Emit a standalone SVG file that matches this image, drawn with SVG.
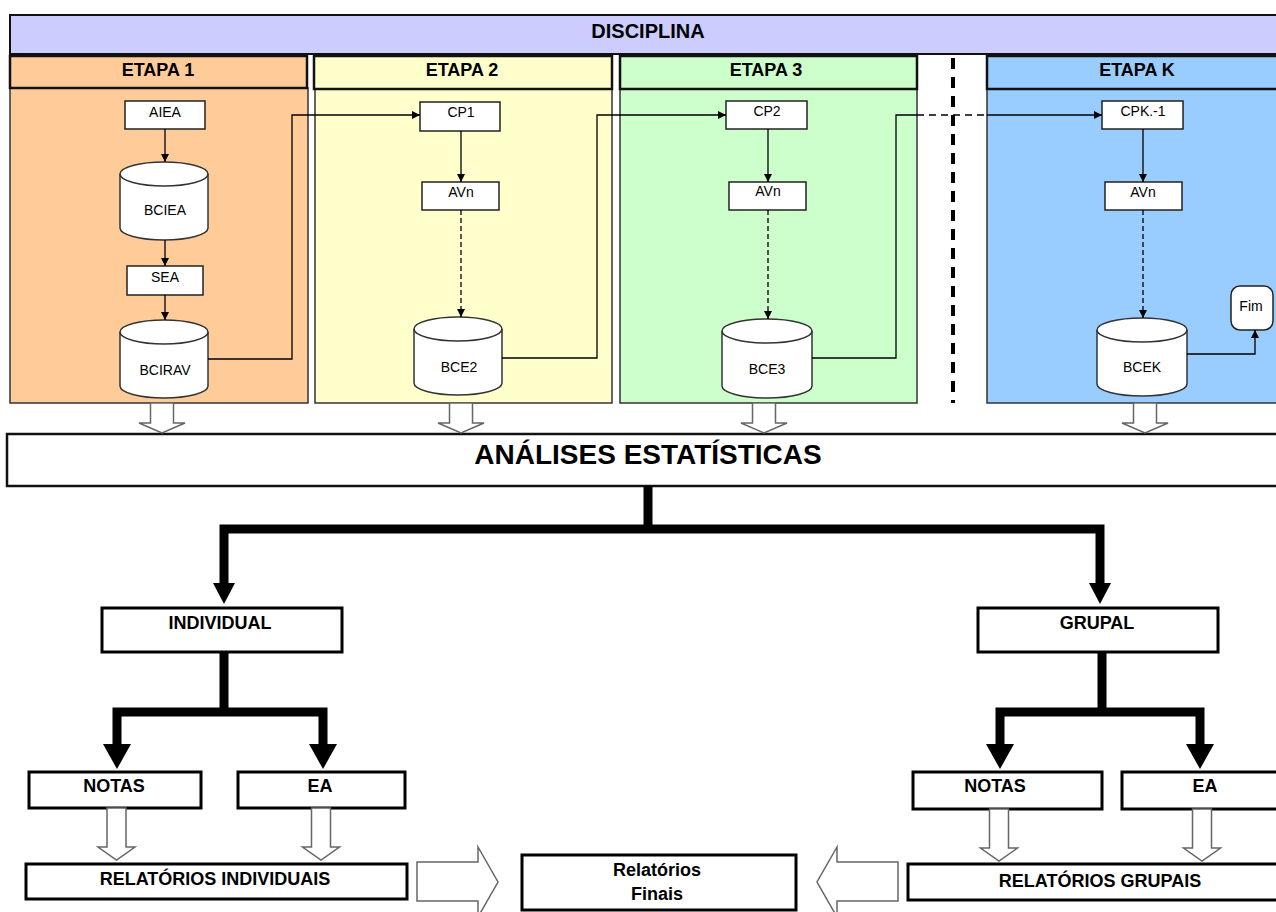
<svg xmlns="http://www.w3.org/2000/svg" width="1276" height="912" viewBox="0 0 1276 912">
<style>
.hdr{stroke:#111;stroke-width:2.5}
.body{stroke:#333;stroke-width:1.5}
.t{font-family:"Liberation Sans",Arial,sans-serif;text-anchor:middle;fill:#000}
.b{font-weight:bold}
.sm{font-size:14px}
.box{fill:#fff;stroke:#222;stroke-width:1.5}
.cyl{fill:#fff;stroke:#333;stroke-width:1.5}
.cylf{fill:none;stroke:#333;stroke-width:1.5}
.ln{fill:none;stroke:#000;stroke-width:1.3}
.dash{stroke-dasharray:5 3}
.big{fill:#fff;stroke:#000;stroke-width:3}
.thick{fill:none;stroke:#000;stroke-width:9;stroke-linejoin:miter;stroke-linecap:butt}
.hollow{fill:#fff;stroke:#666;stroke-width:1.5}
</style>
<defs>
<marker id="ah" markerUnits="userSpaceOnUse" markerWidth="9" markerHeight="9" refX="8" refY="4" orient="auto">
<path d="M0,0 L8,4 L0,8 z" fill="#000"/>
</marker>
<path id="sarrow" d="M-11.5,0 V20 H-23 L0,30 L23,20 H11.5 V0 Z"/>
<path id="barrow" d="M-9.5,0 V39 H-18.5 L0,52 L18.5,39 H9.5 V0 Z"/>
</defs>

<g id="disciplina">
<rect x="10" y="15" width="1270" height="39" fill="#ccccff" stroke="#111" stroke-width="2"/>
<text class="t b" x="648" y="38" font-size="20">DISCIPLINA</text>
</g>

<g id="etapa1">
<rect class="body" x="10" y="88" width="298" height="315" fill="#ffcc99"/>
<rect class="hdr" x="10" y="56" width="297" height="32" fill="#ffcc99"/>
<text class="t b" x="158" y="76" font-size="18">ETAPA 1</text>
</g>
<g id="etapa2">
<rect class="body" x="315" y="88" width="297" height="315" fill="#ffffcc"/>
<rect class="hdr" x="314" y="56" width="298" height="33" fill="#ffffcc"/>
<text class="t b" x="462" y="76" font-size="18">ETAPA 2</text>
</g>
<g id="etapa3">
<rect class="body" x="620" y="88" width="297" height="315" fill="#ccffcc"/>
<rect class="hdr" x="620" y="56" width="297" height="33" fill="#ccffcc"/>
<text class="t b" x="766" y="76" font-size="18">ETAPA 3</text>
</g>
<g id="etapaK">
<rect class="body" x="987" y="88" width="293" height="315" fill="#99ccff"/>
<rect class="hdr" x="987" y="56" width="293" height="33" fill="#99ccff"/>
<text class="t b" x="1137" y="76" font-size="18">ETAPA K</text>
</g>
<g id="separator">
<line x1="953" y1="58" x2="953" y2="403" stroke="#000" stroke-width="4" stroke-dasharray="11 8"/>
</g>

<g id="aiea"><rect class="box" x="125" y="101" width="80" height="28"/><text class="t sm" x="165" y="117">AIEA</text></g>
<g id="bciea"><path class="cyl" d="M120,174 A44,12 0 0,1 208,174 V228 A44,12 0 0,1 120,228 Z"/><path class="cylf" d="M120,174 A44,12 0 0,0 208,174"/><text class="t sm" x="165" y="215">BCIEA</text></g>
<g id="sea"><rect class="box" x="127" y="266" width="76" height="29"/><text class="t sm" x="165" y="282">SEA</text></g>
<g id="bcirav"><path class="cyl" d="M120,332 A44,12 0 0,1 208,332 V386 A44,12 0 0,1 120,386 Z"/><path class="cylf" d="M120,332 A44,12 0 0,0 208,332"/><text class="t sm" x="165" y="375">BCIRAV</text></g>

<g id="cp1"><rect class="box" x="420" y="102" width="80" height="29"/><text class="t sm" x="461" y="117">CP1</text></g>
<g id="avn2"><rect class="box" x="422" y="182" width="77" height="28"/><text class="t sm" x="461" y="197">AVn</text></g>
<g id="bce2"><path class="cyl" d="M414,329 A44,12 0 0,1 502,329 V383 A44,12 0 0,1 414,383 Z"/><path class="cylf" d="M414,329 A44,12 0 0,0 502,329"/><text class="t sm" x="459" y="372">BCE2</text></g>

<g id="cp2"><rect class="box" x="726" y="101" width="81" height="28"/><text class="t sm" x="767" y="116">CP2</text></g>
<g id="avn3"><rect class="box" x="729" y="182" width="77" height="28"/><text class="t sm" x="768" y="196">AVn</text></g>
<g id="bce3"><path class="cyl" d="M722,331 A45,12 0 0,1 812,331 V386 A45,12 0 0,1 722,386 Z"/><path class="cylf" d="M722,331 A45,12 0 0,0 812,331"/><text class="t sm" x="767" y="374">BCE3</text></g>

<g id="cpk"><rect class="box" x="1102" y="101" width="81" height="28"/><text class="t sm" x="1143" y="116">CPK.-1</text></g>
<g id="avnk"><rect class="box" x="1105" y="182" width="77" height="28"/><text class="t sm" x="1143" y="197">AVn</text></g>
<g id="bcek"><path class="cyl" d="M1097,330 A45,12 0 0,1 1187,330 V384 A45,12 0 0,1 1097,384 Z"/><path class="cylf" d="M1097,330 A45,12 0 0,0 1187,330"/><text class="t sm" x="1142" y="372">BCEK</text></g>
<g id="fim"><rect class="box" x="1231" y="286" width="42" height="44" rx="9"/><text class="t sm" x="1251" y="311">Fim</text></g>

<g id="analises">
<rect x="7" y="434" width="1273" height="52" fill="#fff" stroke="#111" stroke-width="2.5"/>
<text class="t b" x="648" y="464" font-size="28">ANÁLISES ESTATÍSTICAS</text>
</g>

<g id="individual"><rect class="big" x="102" y="608" width="240" height="44"/><text class="t b" x="220" y="629" font-size="18">INDIVIDUAL</text></g>
<g id="grupal"><rect class="big" x="978" y="608" width="240" height="44"/><text class="t b" x="1097" y="629" font-size="18">GRUPAL</text></g>
<g id="notas-ind"><rect class="big" x="29" y="772" width="172" height="36"/><text class="t b" x="114" y="792" font-size="18">NOTAS</text></g>
<g id="ea-ind"><rect class="big" x="238" y="772" width="167" height="36"/><text class="t b" x="320" y="792" font-size="18">EA</text></g>
<g id="notas-grp"><rect class="big" x="913" y="772" width="189" height="37"/><text class="t b" x="995" y="792" font-size="18">NOTAS</text></g>
<g id="ea-grp"><rect class="big" x="1122" y="772" width="160" height="37"/><text class="t b" x="1205" y="792" font-size="18">EA</text></g>
<g id="rel-ind"><rect class="big" x="26" y="864" width="381" height="35"/><text class="t b" x="215" y="885" font-size="18">RELATÓRIOS INDIVIDUAIS</text></g>
<g id="rel-grp"><rect class="big" x="908" y="864" width="372" height="36"/><text class="t b" x="1100" y="887" font-size="18">RELATÓRIOS GRUPAIS</text></g>
<g id="rel-finais"><rect class="big" x="522" y="855" width="274" height="55"/><text class="t b" x="657" y="876" font-size="18">Relatórios</text><text class="t b" x="657" y="900" font-size="18">Finais</text></g>

<g id="connectors">
<line class="ln" x1="165" y1="129" x2="165" y2="162" marker-end="url(#ah)"/>
<line class="ln" x1="165" y1="240" x2="165" y2="266" marker-end="url(#ah)"/>
<line class="ln" x1="165" y1="295" x2="165" y2="320" marker-end="url(#ah)"/>
<path class="ln" d="M208,359 H292 V115 H420" marker-end="url(#ah)"/>
<line class="ln" x1="461" y1="131" x2="461" y2="182" marker-end="url(#ah)"/>
<line class="ln dash" x1="461" y1="210" x2="461" y2="317" marker-end="url(#ah)"/>
<path class="ln" d="M502,358 H597 V115 H726" marker-end="url(#ah)"/>
<line class="ln" x1="768" y1="129" x2="768" y2="182" marker-end="url(#ah)"/>
<line class="ln dash" x1="768" y1="210" x2="768" y2="319" marker-end="url(#ah)"/>
<path class="ln" d="M812,358 H896 V115 H917"/>
<line class="ln" x1="917" y1="115" x2="987" y2="115" stroke-dasharray="7 5"/>
<line class="ln" x1="987" y1="115" x2="1102" y2="115" marker-end="url(#ah)"/>
<line class="ln" x1="1143" y1="129" x2="1143" y2="182" marker-end="url(#ah)"/>
<line class="ln dash" x1="1143" y1="210" x2="1143" y2="318" marker-end="url(#ah)"/>
<path class="ln" d="M1187,354 H1255 V330" marker-end="url(#ah)"/>

<use href="#sarrow" class="hollow" x="162" y="403"/>
<use href="#sarrow" class="hollow" x="461" y="403"/>
<use href="#sarrow" class="hollow" x="764" y="403"/>
<use href="#sarrow" class="hollow" x="1145" y="403"/>

<path class="thick" d="M648,486 V529" stroke-width="10"/>
<path class="thick" d="M224,584 V529 H1100 V584" stroke-width="8"/>
<polygon points="213,583 235,583 224,604" fill="#000"/>
<polygon points="1089,583 1111,583 1100,604" fill="#000"/>

<path class="thick" d="M224,652 V712"/>
<path class="thick" d="M117,745 V712 H323 V745"/>
<polygon points="103,744 131,744 117,769" fill="#000"/>
<polygon points="309,744 337,744 323,769" fill="#000"/>

<path class="thick" d="M1102,652 V712"/>
<path class="thick" d="M1000,745 V712 H1200 V745"/>
<polygon points="986,744 1014,744 1000,769" fill="#000"/>
<polygon points="1186,744 1214,744 1200,769" fill="#000"/>

<use href="#barrow" class="hollow" x="116.5" y="808"/>
<use href="#barrow" class="hollow" x="321" y="808"/>
<use href="#barrow" class="hollow" x="999" y="809"/>
<use href="#barrow" class="hollow" x="1202" y="809"/>

<polygon class="hollow" points="417,862 478,862 478,847 498,882 478,917 478,901 417,901"/>
<polygon class="hollow" points="898,862 837,862 837,847 817,882 837,917 837,901 898,901"/>
</g>
</svg>
